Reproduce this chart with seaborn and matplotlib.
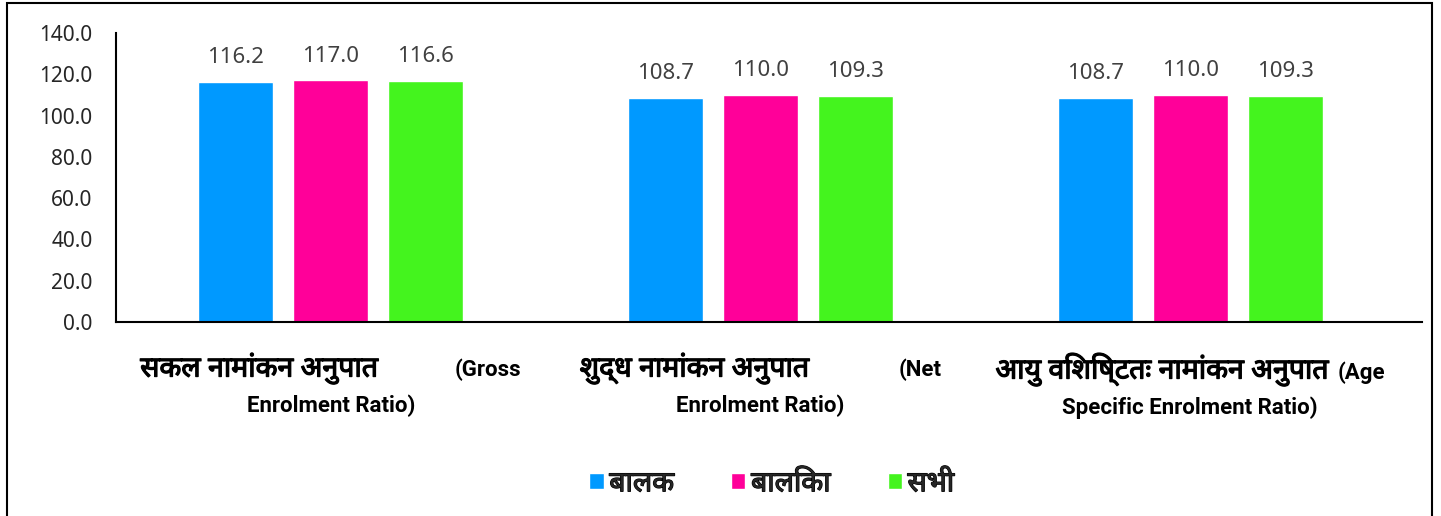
import seaborn as sns
import matplotlib.pyplot as plt
import matplotlib.patches as mpatches
import matplotlib.patheffects as pe
from matplotlib.offsetbox import TextArea, HPacker, VPacker, AnnotationBbox
import pandas as pd

# category names: hindi part, english part on same line, second line
cat_hi = ["सकल नामांकन अनुपात", "शुद्ध नामांकन अनुपात", "आयु विशिष्टतः नामांकन अनुपात"]
cat_en1 = ["(Gross", "(Net", "(Age"]
cat_en2 = ["Enrolment Ratio)", "Enrolment Ratio)", "Specific Enrolment Ratio)"]
categories = [f"{h} {a} {b}" for h, a, b in zip(cat_hi, cat_en1, cat_en2)]
gaps = [55, 64, 6]  # gap between hindi and english part (points)

groups = ["बालक", "बालिका", "सभी"]
boys = [116.2, 108.7, 108.7]
girls = [117.0, 110.0, 110.0]
total = [116.6, 109.3, 109.3]
colors = ["#0099FF", "#FF0099", "#44F41E"]
yticks = [0, 20, 40, 60, 80, 100, 120, 140]

df = pd.DataFrame({
    "cat": categories * 3,
    "grp": [groups[0]] * 3 + [groups[1]] * 3 + [groups[2]] * 3,
    "val": boys + girls + total,
})

sns.set_style("white")
plt.rcParams["font.family"] = ["Noto Sans", "DejaVu Sans"]
bold_fam = ["Roboto", "Noto Sans", "DejaVu Sans"]
fake_bold = [pe.withStroke(linewidth=0.9, foreground="black")]

fig = plt.figure(figsize=(14.41, 5.16), dpi=100)
ax = fig.add_axes([0.0805, 0.376, 0.9065, 0.56])
sns.barplot(data=df, x="cat", y="val", hue="grp", palette=colors, saturation=1,
            width=0.663, gap=0.21, ax=ax, legend=True)

for cont in ax.containers:
    ax.bar_label(cont, fmt="%.1f", padding=10, fontsize=16, color="#404040")

ax.set_ylim(0, 140)
ax.set_xlim(-0.5, 2.54)
ax.set_yticks(yticks)
ax.set_yticklabels([f"{t:.1f}" for t in yticks], fontsize=15)
ax.tick_params(axis="y", length=0, pad=17)
ax.tick_params(axis="x", length=0, labelbottom=False)
ax.set_xlabel("")
ax.set_ylabel("")
for s in ["top", "right"]:
    ax.spines[s].set_visible(False)
for s in ["left", "bottom"]:
    ax.spines[s].set_color("black")
    ax.spines[s].set_linewidth(1.5)

# two-line category labels with larger bold hindi text
hi_props = dict(fontsize=20.5, color="black", path_effects=fake_bold)
en_props = dict(fontsize=16, color="black", fontweight="bold", family=bold_fam)
for i in range(len(cat_hi)):
    line1 = HPacker(children=[TextArea(cat_hi[i], textprops=hi_props),
                              TextArea(cat_en1[i], textprops=en_props)],
                    align="baseline", pad=0, sep=gaps[i])
    line2 = TextArea(cat_en2[i], textprops=en_props)
    box = VPacker(children=[line1, line2], align="center", pad=0, sep=7)
    ab = AnnotationBbox(box, (i, 0), xycoords=ax.get_xaxis_transform(),
                        xybox=(0, -22), boxcoords="offset points",
                        box_alignment=(0.5, 1), frameon=False, pad=0)
    ax.add_artist(ab)

leg = ax.legend(loc="center", bbox_to_anchor=(0.502, -0.56), ncol=3, frameon=False,
                handlelength=0.5, handleheight=0.5, handletextpad=0.2,
                columnspacing=2.0, prop={"size": 20.5})
for t in leg.get_texts():
    t.set_path_effects(fake_bold)

fig.patches.append(mpatches.Rectangle((7 / 1441, -0.05), 1425 / 1441, 1.05 - 3 / 516,
                                      transform=fig.transFigure, fill=False,
                                      edgecolor="black", linewidth=1.5))

fig.savefig("out.png", dpi=100)
